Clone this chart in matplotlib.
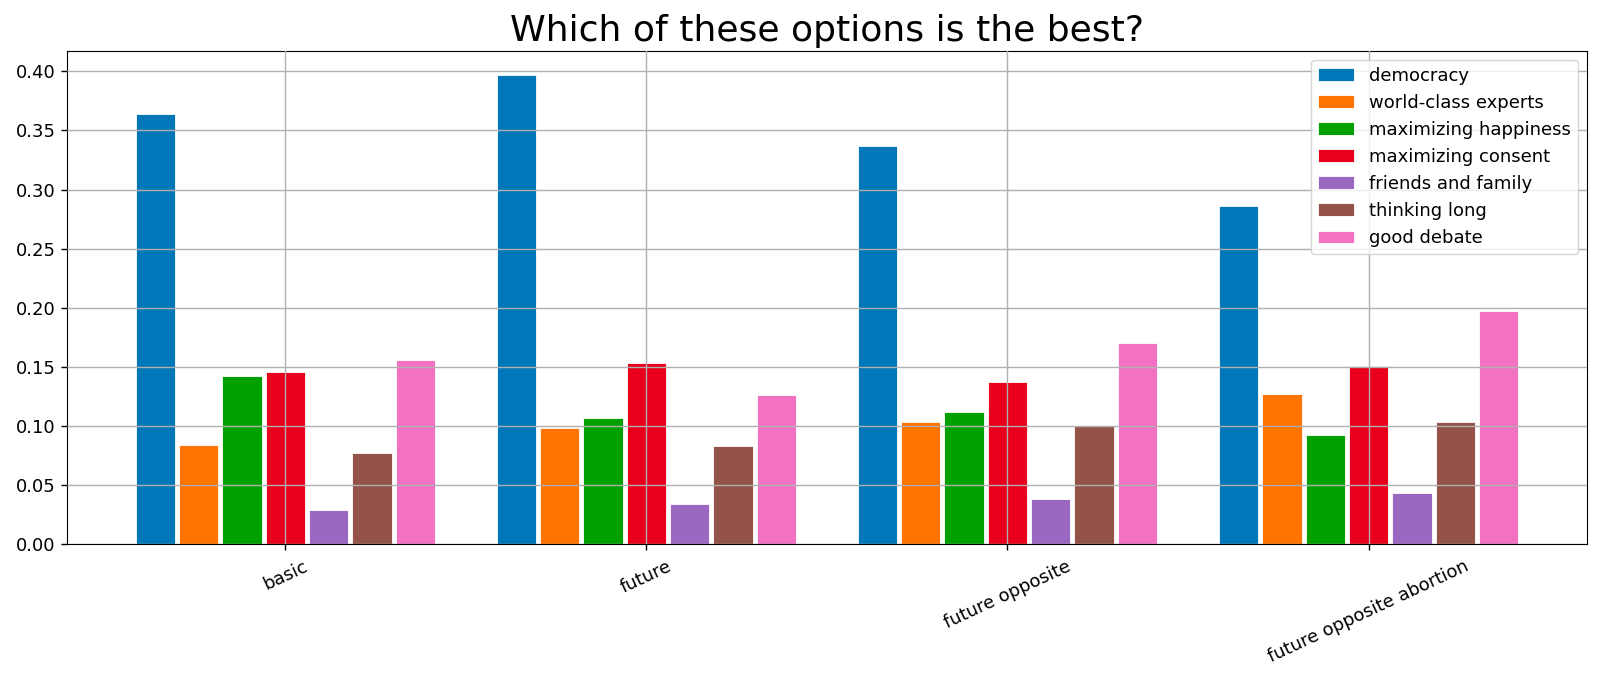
import matplotlib
matplotlib.use("Agg")
import matplotlib.pyplot as plt
import numpy as np

categories = ["basic", "future", "future opposite", "future opposite abortion"]
series_names = ["democracy", "world-class experts", "maximizing happiness",
                "maximizing consent", "friends and family", "thinking long", "good debate"]
democracy = [0.364, 0.397, 0.337, 0.286]
world_class_experts = [0.084, 0.098, 0.103, 0.127]
maximizing_happiness = [0.142, 0.107, 0.112, 0.092]
maximizing_consent = [0.146, 0.153, 0.137, 0.151]
friends_and_family = [0.029, 0.034, 0.038, 0.043]
thinking_long = [0.077, 0.083, 0.100, 0.103]
good_debate = [0.156, 0.126, 0.170, 0.197]
series_values = [democracy, world_class_experts, maximizing_happiness,
                 maximizing_consent, friends_and_family, thinking_long, good_debate]
colors = ["#0077b8", "#ff7300", "#00a000", "#e8001c", "#9b67c1", "#945349", "#f271c3"]
yticks = [0.0, 0.05, 0.10, 0.15, 0.20, 0.25, 0.30, 0.35, 0.40]

fig = plt.figure(figsize=(16, 6.8), dpi=100)
ax = fig.add_axes([0.0417, 0.2, 0.9502, 0.7254])
x = np.arange(len(categories))
n = len(series_names)
pitch = 0.12
w = 0.109
for i, (name, vals, c) in enumerate(zip(series_names, series_values, colors)):
    ax.bar(x + (i - (n - 1) / 2) * pitch, vals, width=w, color=c, edgecolor="white",
           linewidth=0.6, label=name)

ax.set_xlim(-0.605, 3.605)
ax.set_ylim(0, 0.4175)
ax.set_yticks(yticks)
ax.set_yticklabels([f"{t:.2f}" for t in yticks], fontsize=13)
ax.set_xticks(x)
ax.set_xticklabels(categories, rotation=25, fontsize=13)
ax.tick_params(length=4.5, width=1)
ax.tick_params(axis="x", pad=5)
ax.grid(True, color="#b0b0b0", linewidth=1)
ax.set_axisbelow(False)
ax.set_title("Which of these options is the best?", fontsize=26, pad=7)
ax.legend(loc="upper right", fontsize=13)
fig.savefig("out.png", dpi=100)
